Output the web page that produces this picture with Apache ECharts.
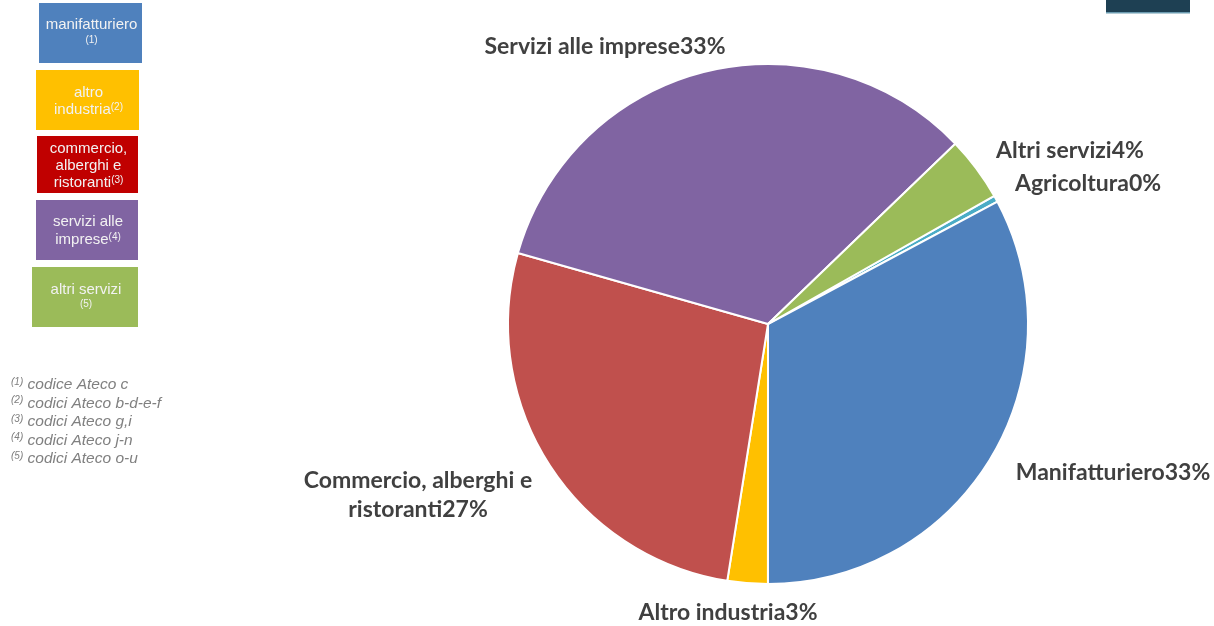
<!DOCTYPE html>
<html style="height: 100%">
<head>
  <meta charset="utf-8">
</head>
<body style="height: 100%; margin: 0; background: #fff">
  <div id="container" style="width: 1214px; height: 626px;"></div>
  <script type="text/javascript" src="https://cdn.jsdelivr.net/npm/echarts@6/dist/echarts.min.js"></script>
  <script type="text/javascript">
    // slices, clockwise from the top-right
    var sectors = ['Agricoltura', 'Manifatturiero', 'Altro industria', 'Commercio, alberghi e\nristoranti', 'Servizi alle imprese', 'Altri servizi'];
    var shares = [0.4, 32.8, 2.5, 26.9, 33.4, 4.0];
    var sectorColors = ['#4BACC6', '#4F81BD', '#FFC000', '#C0504D', '#8064A2', '#9BBB59'];

    // boxes on the left
    var boxTexts = ['manifatturiero\n{s|(1)}', 'altro\nindustria{s|(2)}', 'commercio,\nalberghi e\nristoranti{s|(3)}', 'servizi alle\nimprese{s|(4)}', 'altri servizi\n{s|(5)}'];
    var boxColors = ['#4F81BD', '#FFC000', '#C00000', '#8064A2', '#9BBB59'];
    var notes = ['codice Ateco c', 'codici Ateco b-d-e-f', 'codici Ateco g,i', 'codici Ateco j-n', 'codici Ateco o-u'];

    var dom = document.getElementById('container');
    var myChart = echarts.init(dom);

    var boxes = [
      [39, 3, 103, 60], [36, 70, 103, 60], [37, 136, 101, 57], [36, 200, 102, 60], [32, 267, 106, 60]
    ];
    var boxLines = [18, 17, 17, 18, 17];
    // where each pie label sits (centre of the text block)
    var labelSpots = [[1088, 184], [1113, 473], [728, 613], [418, 495], [605, 47], [1070, 151]];

    var graphics = [];
    boxes.forEach(function (b, i) {
      graphics.push({
        type: 'rect', shape: {x: b[0], y: b[1], width: b[2], height: b[3]},
        style: {fill: boxColors[i]}, silent: true
      });
      graphics.push({
        type: 'text', x: b[0] + b[2] / 2 + 1, y: b[1] + b[3] / 2 + 1,
        style: {
          text: boxTexts[i], fill: '#F2F2F2', font: '15px "Liberation Sans", Arial, sans-serif',
          align: 'center', verticalAlign: 'middle', lineHeight: boxLines[i],
          rich: {s: {fontSize: 10, lineHeight: boxLines[i], padding: [0, 0, 5, 0], fill: '#F2F2F2'}}
        }, silent: true
      });
    });
    notes.forEach(function (n, i) {
      graphics.push({
        type: 'text', x: 11, y: 385 + i * 18.5,
        style: {
          text: '{s|(' + (i + 1) + ')} ' + n, fill: '#808080',
          font: 'italic 15.5px "Liberation Sans", Arial, sans-serif',
          verticalAlign: 'middle',
          rich: {s: {fontSize: 10, fontStyle: 'italic', padding: [0, 0, 6, 0], fill: '#808080'}}
        }, silent: true
      });
    });
    graphics.push({type: 'rect', shape: {x: 1106, y: 0, width: 84, height: 12}, style: {fill: '#1E4053'}, silent: true});
    graphics.push({type: 'rect', shape: {x: 1106, y: 12, width: 84, height: 1.5}, style: {fill: '#6B9BB0'}, silent: true});

    var option = {
      animation: false,
      graphic: graphics,
      series: [{
        type: 'pie',
        center: [768, 324],
        radius: [0, 260],
        startAngle: 29.5,
        clockwise: true,
        percentPrecision: 0,
        itemStyle: {borderColor: '#fff', borderWidth: 2},
        label: {
          show: true, position: 'outside', formatter: '{b}{d}%',
          color: '#404040', fontFamily: 'Lato', fontWeight: 'bold', fontSize: 23,
          lineHeight: 29, alignTo: 'none', textAlign: 'center', overflow: 'none'
        },
        labelLine: {show: false},
        labelLayout: function (params) {
          var p = labelSpots[params.dataIndex];
          return {x: p[0], y: p[1], align: 'center', verticalAlign: 'middle', width: 400};
        },
        data: sectors.map(function (s, i) {
          return {name: s, value: shares[i], itemStyle: {color: sectorColors[i]}};
        })
      }]
    };
    myChart.setOption(option);
  </script>
</body>
</html>
